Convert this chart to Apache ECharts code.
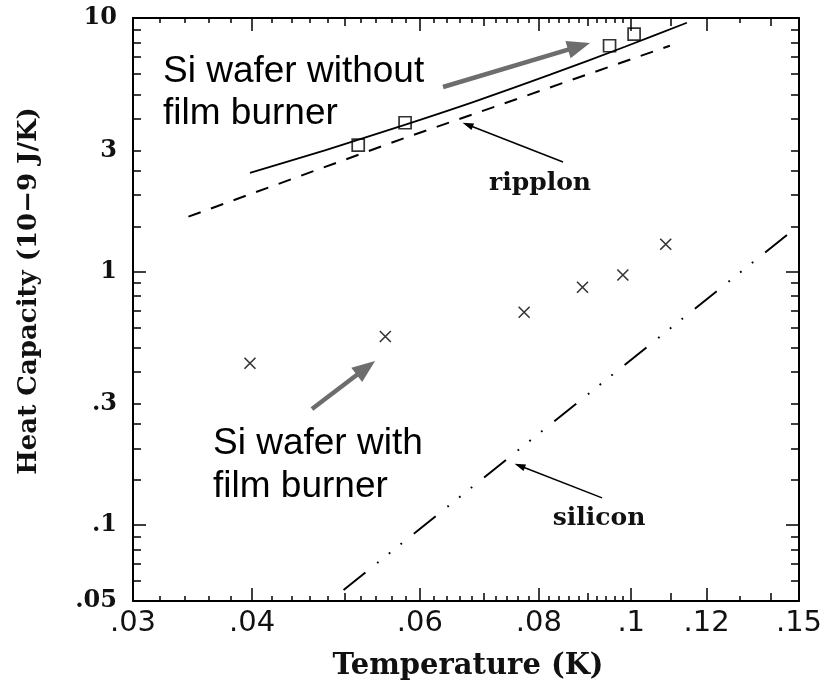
<!DOCTYPE html>
<html><head><meta charset="utf-8">
<script src="https://cdn.jsdelivr.net/npm/echarts@6/dist/echarts.min.js"></script>
<style>html,body{margin:0;padding:0;background:#fff}#chart{width:825px;height:688px}</style>
</head><body><div id="chart"></div>
<script>
// ---- data ----
const tempSquares = [0.0517, 0.0579, 0.0949, 0.1007];
const heatSquares = [3.15, 3.86, 7.77, 8.63];
const tempCrosses = [0.0398, 0.0552, 0.0772, 0.0889, 0.0980, 0.1087];
const heatCrosses = [0.434, 0.553, 0.690, 0.866, 0.968, 1.279];
const tempFit = [0.0398, 0.0477, 0.0572, 0.0686, 0.0822, 0.0985, 0.1144];
const heatFit = [2.45, 3.005, 3.735, 4.69, 5.975, 7.70, 9.58];
const tempRipplon = [0.0343, 0.0577, 0.1098];
const heatRipplon = [1.644, 3.35, 7.77];
const tempSilicon = [0.0499, 0.1457];
const heatSilicon = [0.0553, 1.392];

// ---- ticks & labels ----
const xTickValues = [0.03, 0.04, 0.06, 0.08, 0.1, 0.12, 0.15];
const xTickLabels = ['.03', '.04', '.06', '.08', '.1', '.12', '.15'];
const xTicksMajor = [0.04, 0.06, 0.08, 0.1, 0.12];
const xTicksMedium = [0.05, 0.07, 0.09, 0.11, 0.14];
const xTicksMinor = [0.032, 0.034, 0.036, 0.038, 0.042, 0.044, 0.046, 0.048,
  0.052, 0.054, 0.056, 0.058, 0.062, 0.064, 0.066, 0.068, 0.072, 0.074, 0.076, 0.078,
  0.082, 0.084, 0.086, 0.088, 0.092, 0.094, 0.096, 0.098, 0.13];
const yTickValues = [0.05, 0.1, 0.3, 1, 3, 10];
const yTickLabels = ['.05', '.1', '.3', '1', '3', '10'];
const yTicksMajor = [0.1, 1, 10];
const yTicksMinor = [0.06, 0.07, 0.08, 0.09, 0.15, 0.2, 0.25, 0.3, 0.4, 0.5, 0.6, 0.7, 0.8, 0.9,
  1.5, 2, 2.5, 3, 4, 5, 6, 7, 8, 9];

function makeFmt(vals, labels) {
  return function (v) {
    for (let i = 0; i < vals.length; i++) {
      if (Math.abs(vals[i] - v) / vals[i] < 1e-6) return labels[i];
    }
    return '';
  };
}
const zip = (a, b) => a.map((v, i) => [v, b[i]]);

const tickStyle = { color: '#000', width: 1.5 };
function xAxisDef(pos, ticks, len, showLine, showLabel) {
  return {
    type: 'log', logBase: 10, min: 0.03, max: 0.15, position: pos,
    splitLine: { show: false }, minorTick: { show: false }, minorSplitLine: { show: false },
    axisLine: { show: showLine, onZero: false, lineStyle: { color: '#000', width: 2 } },
    axisTick: { show: true, inside: true, length: len, customValues: ticks, lineStyle: tickStyle },
    axisLabel: showLabel ? {
      show: true, customValues: xTickValues, formatter: makeFmt(xTickValues, xTickLabels),
      margin: 8, color: '#111', fontFamily: 'DejaVu Sans', fontSize: 29
    } : { show: false }
  };
}
function yAxisDef(pos, ticks, len, showLine, showLabel) {
  return {
    type: 'log', logBase: 10, min: 0.05, max: 10, position: pos,
    splitLine: { show: false }, minorTick: { show: false }, minorSplitLine: { show: false },
    axisLine: { show: showLine, onZero: false, lineStyle: { color: '#000', width: 2 } },
    axisTick: { show: true, inside: true, length: len, customValues: ticks, lineStyle: tickStyle },
    axisLabel: showLabel ? {
      show: true, customValues: yTickValues, formatter: makeFmt(yTickValues, yTickLabels),
      margin: 16, color: '#111', fontFamily: 'DejaVu Serif', fontWeight: 'bold', fontSize: 24
    } : { show: false }
  };
}

const chart = echarts.init(document.getElementById('chart'), null, { renderer: 'canvas' });
const gray = '#6d6d6d';
chart.setOption({
  animation: false,
  backgroundColor: '#fff',
  grid: { left: 133, right: 26, top: 18, bottom: 87, containLabel: false, outerBoundsMode: 'none' },
  xAxis: [
    xAxisDef('bottom', xTicksMajor, 13, true, true),
    xAxisDef('bottom', xTicksMedium, 8, false, false),
    xAxisDef('bottom', xTicksMinor, 5, false, false),
    xAxisDef('top', xTicksMajor, 13, true, false),
    xAxisDef('top', xTicksMedium, 8, false, false),
    xAxisDef('top', xTicksMinor, 5, false, false)
  ],
  yAxis: [
    yAxisDef('left', yTicksMajor, 13, true, true),
    yAxisDef('left', yTicksMinor, 8, false, false),
    yAxisDef('right', yTicksMajor, 13, true, false),
    yAxisDef('right', yTicksMinor, 8, false, false)
  ],
  series: [
    {
      name: 'fit', type: 'line', data: zip(tempFit, heatFit), showSymbol: false, symbol: 'none',
      smooth: 0.3, lineStyle: { color: '#000', width: 1.8 }, silent: true
    },
    {
      name: 'ripplon', type: 'line', data: zip(tempRipplon, heatRipplon), showSymbol: false, symbol: 'none',
      lineStyle: { color: '#000', width: 2, type: [13, 11] }, silent: true,
      markLine: {
        silent: true, symbol: ['none', 'triangle'], symbolSize: [7, 11],
        label: { show: false }, lineStyle: { color: '#000', width: 1.5, type: 'solid' },
        data: [
          [{ coord: [0.0848, 2.703] }, { coord: [0.06735, 3.79] }],
          [{ coord: [0.0932, 0.1276] }, { coord: [0.07637, 0.1709] }]
        ]
      }
    },
    {
      name: 'silicon', type: 'line', data: zip(tempSilicon, heatSilicon), showSymbol: false, symbol: 'none',
      lineStyle: { color: '#000', width: 2, type: [28, 15, 1.8, 13.2, 1.8, 13.2, 1.8, 15.2] }, silent: true
    },
    {
      name: 'Si wafer without film burner', type: 'scatter', data: zip(tempSquares, heatSquares),
      symbol: 'rect', symbolSize: 12,
      itemStyle: { color: 'rgba(0,0,0,0)', borderColor: '#000', borderWidth: 1.7 },
      markLine: {
        silent: true, symbol: ['none', 'triangle'], symbolSize: [18, 23],
        label: { show: false }, lineStyle: { color: gray, width: 4.5, type: 'solid' },
        data: [
          [{ coord: [0.06346, 5.342] }, { coord: [0.08815, 7.73] }],
          [{ coord: [0.04623, 0.2864] }, { coord: [0.05267, 0.4157] }]
        ]
      }
    },
    {
      name: 'Si wafer with film burner', type: 'scatter', data: zip(tempCrosses, heatCrosses),
      symbol: 'path://M0,0L10,10M10,0L0,10', symbolSize: 11,
      itemStyle: { color: 'rgba(0,0,0,0)', borderColor: '#000', borderWidth: 1.6 }
    }
  ],
  graphic: [
    { type: 'text', x: 163, y: 72, style: { text: 'Si wafer without', fontFamily: 'Liberation Sans', fontSize: 37, fill: '#000', align: 'left', verticalAlign: 'middle' } },
    { type: 'text', x: 163, y: 114, style: { text: 'film burner', fontFamily: 'Liberation Sans', fontSize: 37, fill: '#000', align: 'left', verticalAlign: 'middle' } },
    { type: 'text', x: 213, y: 444, style: { text: 'Si wafer with', fontFamily: 'Liberation Sans', fontSize: 37, fill: '#000', align: 'left', verticalAlign: 'middle' } },
    { type: 'text', x: 213, y: 487, style: { text: 'film burner', fontFamily: 'Liberation Sans', fontSize: 37, fill: '#000', align: 'left', verticalAlign: 'middle' } },
    { type: 'text', x: 540, y: 183, style: { text: 'ripplon', fontFamily: 'DejaVu Serif', fontWeight: 'bold', fontSize: 25, fill: '#111', align: 'center', verticalAlign: 'middle' } },
    { type: 'text', x: 599, y: 518, style: { text: 'silicon', fontFamily: 'DejaVu Serif', fontWeight: 'bold', fontSize: 25, fill: '#111', align: 'center', verticalAlign: 'middle' } },
    { type: 'text', x: 468, y: 666, style: { text: 'Temperature (K)', fontFamily: 'DejaVu Serif', fontWeight: 'bold', fontSize: 29, fill: '#111', align: 'center', verticalAlign: 'middle' } },
    { type: 'text', x: 29, y: 291, rotation: Math.PI / 2, style: { text: 'Heat Capacity (10\u22129 J/K)', fontFamily: 'DejaVu Serif', fontWeight: 'bold', fontSize: 26, fill: '#111', align: 'center', verticalAlign: 'middle' } }
  ]
});
</script>
</body></html>
